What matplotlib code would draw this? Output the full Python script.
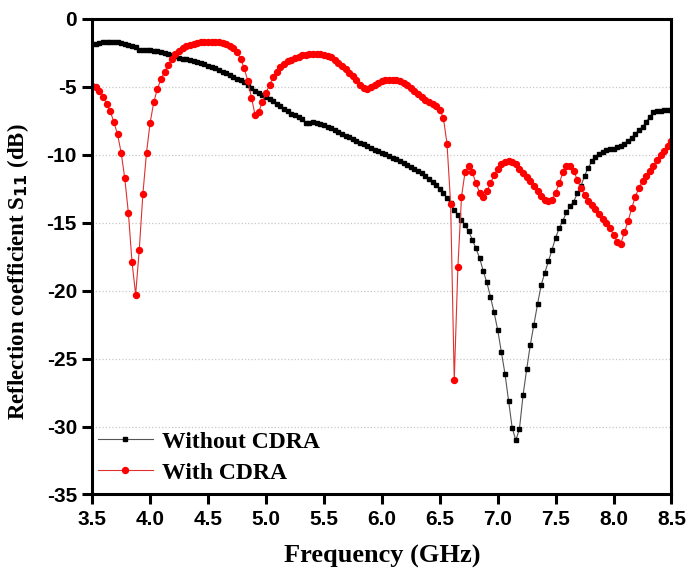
import numpy as np
import matplotlib
matplotlib.use("Agg")
import matplotlib.pyplot as plt

# frequency sweep (GHz), 161 points from 3.5 to 8.5
freq = np.linspace(3.5, 8.5, 161)

# S11 without CDRA (dB)
s11_without = [
    -1.89, -1.82, -1.76, -1.73, -1.71, -1.70, -1.71, -1.74, -1.78, -1.86,
    -1.96, -2.02, -2.10, -2.28, -2.30, -2.30, -2.30, -2.34, -2.40, -2.47,
    -2.53, -2.58, -2.65, -2.75, -2.85, -2.93, -2.98, -3.04, -3.12, -3.20,
    -3.28, -3.36, -3.45, -3.55, -3.65, -3.75, -3.88, -4.00, -4.12, -4.26,
    -4.40, -4.52, -4.66, -4.85, -5.08, -5.28, -5.45, -5.60, -5.75, -5.88,
    -6.05, -6.25, -6.45, -6.63, -6.82, -6.98, -7.10, -7.22, -7.36, -7.70,
    -7.64, -7.62, -7.66, -7.72, -7.82, -7.94, -8.07, -8.20, -8.33, -8.46,
    -8.60, -8.72, -8.85, -8.98, -9.12, -9.25, -9.37, -9.50, -9.62, -9.74,
    -9.86, -9.98, -10.10, -10.22, -10.35, -10.47, -10.60, -10.73, -10.87, -11.02,
    -11.18, -11.38, -11.58, -11.78, -12.00, -12.25, -12.50, -12.85, -13.20, -13.55,
    -14.05, -14.45, -14.80, -15.20, -15.65, -16.25, -16.90, -17.60, -18.55, -19.40,
    -20.45, -21.60, -22.90, -24.50, -26.10, -28.10, -30.10, -31.00, -30.20, -27.70,
    -25.80, -24.00, -22.50, -21.00, -19.60, -18.70, -17.85, -17.00, -16.10, -15.40,
    -14.85, -14.25, -13.80, -13.45, -12.85, -12.30, -11.55, -10.95, -10.50, -10.15,
    -9.92, -9.78, -9.68, -9.60, -9.55, -9.46, -9.36, -9.20, -9.00, -8.74,
    -8.45, -8.20, -7.95, -7.60, -7.20, -6.88, -6.80, -6.75, -6.73, -6.72,
    -6.72,
]

# S11 with CDRA (dB)
s11_with = [
    -4.92, -5.05, -5.30, -5.72, -6.25, -6.80, -7.62, -8.50, -9.85, -11.75,
    -14.30, -17.90, -20.30, -17.00, -12.90, -9.85, -7.65, -6.15, -5.15, -4.45,
    -3.90, -3.40, -2.95, -2.60, -2.35, -2.16, -2.02, -1.92, -1.84, -1.78,
    -1.73, -1.71, -1.70, -1.70, -1.71, -1.74, -1.80, -1.88, -2.00, -2.16,
    -2.45, -2.95, -3.65, -4.60, -5.80, -7.10, -6.85, -6.10, -5.45, -4.85,
    -4.30, -3.90, -3.58, -3.32, -3.14, -3.00, -2.88, -2.78, -2.70, -2.64,
    -2.60, -2.58, -2.58, -2.60, -2.63, -2.72, -2.84, -3.00, -3.22, -3.45,
    -3.72, -4.00, -4.20, -4.52, -4.85, -5.08, -5.18, -5.05, -4.88, -4.72,
    -4.60, -4.52, -4.48, -4.47, -4.50, -4.58, -4.72, -4.88, -5.08, -5.30,
    -5.52, -5.75, -5.95, -6.10, -6.25, -6.42, -6.68, -7.30, -9.20, -13.60,
    -26.60, -18.30, -13.10, -11.25, -10.85, -11.30, -12.10, -12.80, -13.10, -12.70,
    -12.10, -11.50, -11.05, -10.72, -10.52, -10.48, -10.55, -10.72, -11.02, -11.38,
    -11.65, -11.95, -12.33, -12.65, -13.05, -13.35, -13.43, -13.30, -12.80, -12.10,
    -11.30, -10.85, -10.82, -11.20, -11.85, -12.45, -12.95, -13.40, -13.70, -14.02,
    -14.35, -14.70, -15.00, -15.40, -15.90, -16.40, -16.55, -15.70, -14.90, -13.95,
    -13.10, -12.45, -11.95, -11.55, -11.20, -10.80, -10.40, -10.05, -9.70, -9.35,
    -9.00,
]

x_ticks = [3.5, 4.0, 4.5, 5.0, 5.5, 6.0, 6.5, 7.0, 7.5, 8.0, 8.5]
y_ticks = [0, -5, -10, -15, -20, -25, -30, -35]

serif = "Liberation Serif"
sans = "Liberation Sans"

fig = plt.figure(figsize=(6.88, 5.69), dpi=100)
ax = fig.add_axes([0.134, 0.131, 0.842, 0.836])

ax.plot(freq, s11_without, color="#555555", lw=0.8, marker="s", ms=2.4,
        mfc="black", mec="black", label="Without CDRA")
ax.plot(freq, s11_with, color="#e03030", lw=0.8, marker="o", ms=4.3,
        mfc="#ff0000", mec="#ff0000", label="With CDRA")

ax.set_xlim(3.5, 8.5)
ax.set_ylim(-35, 0)
ax.set_xticks(x_ticks)
ax.set_yticks(y_ticks)
ax.set_xticklabels([f"{v:.1f}" for v in x_ticks], fontfamily=sans,
                   fontweight="bold", fontsize=15)
ax.set_yticklabels([f"{v:d}" for v in y_ticks], fontfamily=sans,
                   fontweight="bold", fontsize=15)

for s in ax.spines.values():
    s.set_linewidth(2.2)
ax.tick_params(direction="out", length=7, width=2.2, pad=4)

ax.yaxis.grid(True, linestyle=":", color="#c8c8c8", lw=0.9)
ax.set_axisbelow(True)

ax.set_xlabel("Frequency (GHz)", fontfamily=serif, fontweight="bold",
              fontsize=19, labelpad=12)
ax.set_ylabel(r"Reflection coefficient S$_{\mathbf{11}}$ (dB)", fontfamily=serif,
              fontweight="bold", fontsize=16.5)
ax.yaxis.set_label_coords(-0.105, 0.468)

leg = ax.legend(loc="lower left", bbox_to_anchor=(-0.018, -0.012), frameon=False,
                numpoints=1, handlelength=2.3, handletextpad=0.4,
                borderpad=0.2, labelspacing=0.4,
                prop={"family": serif, "weight": "bold", "size": 17})

fig.savefig("out.png", dpi=100)
